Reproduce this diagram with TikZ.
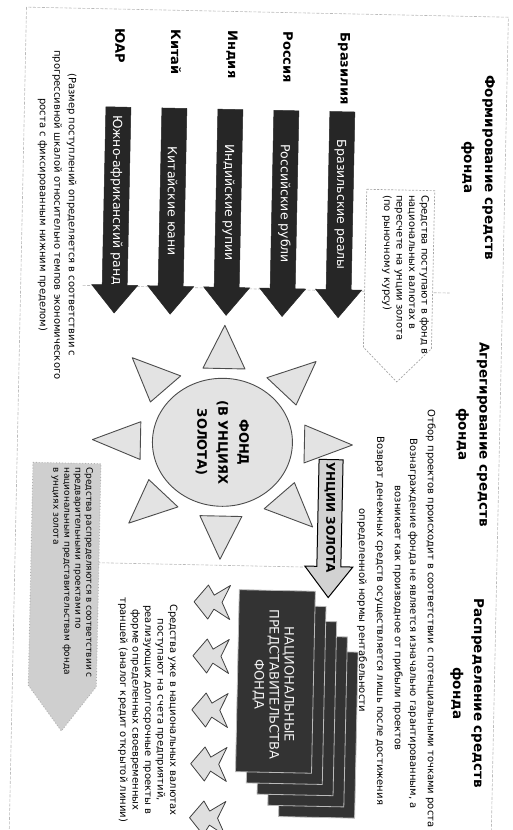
\documentclass[tikz,border=0pt]{standalone}
\usepackage{fontspec}
\setmainfont{DejaVu Sans}
\usetikzlibrary{shapes.geometric}
\begin{document}
\begin{tikzpicture}[x=1pt,y=-1pt,
  frameline/.style={draw=gray!55, line width=0.6pt, dash pattern=on 3pt off 1.5pt},
  country/.style={rotate=-90, anchor=west, inner sep=0pt, font=\fontsize{13}{15}\selectfont\bfseries},
  curr/.style={rotate=-90, inner sep=0pt, text=white, font=\fontsize{12.5}{14}\selectfont},
  darkarrow/.style={fill=black!85, draw=black!85, line width=0.5pt},
  headtxt/.style={rotate=-90, align=center, inner sep=0pt, font=\fontsize{13.5}{21}\selectfont\bfseries},
  smalltxt/.style={rotate=-90, inner sep=0pt, font=\fontsize{10}{12.5}\selectfont},
  ray/.style={fill=gray!22, draw=black!70, line width=0.9pt, line join=round},
  sunbody/.style={ellipse, draw=black!70, line width=0.9pt, fill=gray!22, rotate=-90,
    minimum width=128pt, minimum height=140pt, align=center, inner sep=0pt,
    font=\fontsize{13}{21}\selectfont\bfseries},
  goldarrow/.style={fill=gray!35, draw=black, line width=1pt, line join=miter},
  card/.style={fill=black!80, draw=gray!55, line width=0.8pt},
  smallarrow/.style={fill=gray!25, draw=black!75, line width=0.8pt, line join=round},
  calloutA/.style={fill=white, draw=gray!70, line width=0.7pt, dash pattern=on 2pt off 1.5pt},
  calloutB/.style={fill=gray!38, draw=gray!60, line width=0.9pt, dotted}
]
\useasboundingbox (0,0) rectangle (513,830);
\clip (0,0) rectangle (513,830);
\fill[white] (0,0) rectangle (513,830);
\begin{scope}[rotate around={-1.2:(256,415)}]
  % frame and dividers
  \draw[frameline] (18,12) rectangle (500,860);
  \draw[frameline] (80,289) -- (447,289);
  \draw[frameline] (96,566) -- (312,566);

  % headings
  \node[headtxt] (hform) at (473,163) {Формирование средств\\фонда};
  \node[headtxt] (hagg) at (473,430) {Агрегирование средств\\фонда};
  \node[headtxt] (hdist) at (473,689) {Распределение средств\\фонда};

  % aggregation text
  \node[smalltxt] (ag1) at (435,615) {Отбор проектов происходит в соответствии с потенциальными точками роста};
  \node[smalltxt] (ag2) at (417,620) {Вознаграждение фонда не является изначально гарантированным, а};
  \node[smalltxt] (ag3) at (402,615) {возникает как производное от прибыли проектов};
  \node[smalltxt] (ag4) at (384,618) {Возврат денежных средств осуществляется лишь после достижения};
  \node[smalltxt] (ag5) at (366,608) {определенной нормы рентабельности};

  % country arrows
  \foreach \cx/\lab/\cur/\nm in {336/Бразилия/Бразильские реалы/br,
      280/Россия/Российские рубли/ru, 224/Индия/Индийские рупии/in,
      168/Китай/Китайские юани/cn, 112/ЮАР/Южно-африканский ранд/za} {
    \node[country] (c\nm) at (\cx,31) {\lab};
    \draw[darkarrow] (\cx-12.5,110) -- (\cx+12.5,110) -- (\cx+12.5,288) -- (\cx+23,288)
      -- (\cx,316) -- (\cx-23,288) -- (\cx-12.5,288) -- cycle;
    \node[curr] (a\nm) at (\cx,203) {\cur};
  }

  % callout: funds arrive
  \draw[calloutA] (362,187) -- (430,187) -- (430,345) -- (396,379) -- (362,345) -- cycle;
  \node[smalltxt, anchor=west, align=left] (inflow) at (401,192)
    {Средства поступают в фонд в\\национальных валютах в\\пересчете на унции золота\\(по рыночному курсу)};

  % note on contributions
  \node[smalltxt, align=center, font=\fontsize{10}{14.5}\selectfont] (note) at (53,219)
    {(Размер поступлений определяется в соответствии с\\прогрессивной шкалой относительно темпов экономического\\роста с фиксированным нижним пределом)};

  % sun
  \foreach \a in {0,45,...,315} {
    \draw[ray, shift={(223,443)}, yscale=0.9, rotate=\a] (82,-21) -- (130,0) -- (82,21) -- cycle;
  }
  \node[sunbody] (fund) at (223,443) {ФОНД\\(В УНЦИЯХ\\ЗОЛОТА)};

  % gold arrow
  \draw[goldarrow] (320,458) -- (344,458) -- (344,565) -- (356,565) -- (332,596)
    -- (308,565) -- (320,565) -- cycle;
  \node[rotate=-90, inner sep=0pt, font=\fontsize{12}{14}\selectfont\bfseries] (gold) at (332,516) {УНЦИИ ЗОЛОТА};

  % national representations stack
  \foreach \k in {4,3,2,1,0} {
    \draw[card] (243+11*\k, 590+15*\k) rectangle (319+11*\k, 772+11*\k);
  }
  \node[rotate=-90, align=center, inner sep=0pt, text=gray!12,
    font=\fontsize{13}{15}\selectfont] (reps) at (279,684)
    {НАЦИОНАЛЬНЫЕ\\ПРЕДСТАВИТЕЛЬСТВА\\ФОНДА};

  % small arrows
  \foreach \cy in {603,657,711,765,819} {
    \draw[smallarrow] (198,\cy) -- (212,\cy-17) -- (218,\cy-7) -- (234,\cy-17) -- (226,\cy)
      -- (234,\cy+17) -- (218,\cy+7) -- (212,\cy+17) -- cycle;
  }
  \node[smalltxt, align=center, font=\fontsize{10}{12.5}\selectfont] (proj) at (154,712)
    {Средства уже в национальных валютах\\поступают на счета предприятий,\\реализующих долгосрочные проекты в\\форме определенных своевременных\\траншей (аналог кредит открытой линии)};

  % callout: distribution
  \draw[calloutB] (34,467) -- (102,467) -- (102,690) -- (68,735) -- (34,690) -- cycle;
  \node[smalltxt, anchor=west, align=left, font=\fontsize{9}{11}\selectfont] (distr) at (73.5,471)
    {Средства распределяются в соответствии с\\предварительными проектами по\\национальным представительствам фонда\\в унциях золота};
\end{scope}
\end{tikzpicture}
\end{document}
